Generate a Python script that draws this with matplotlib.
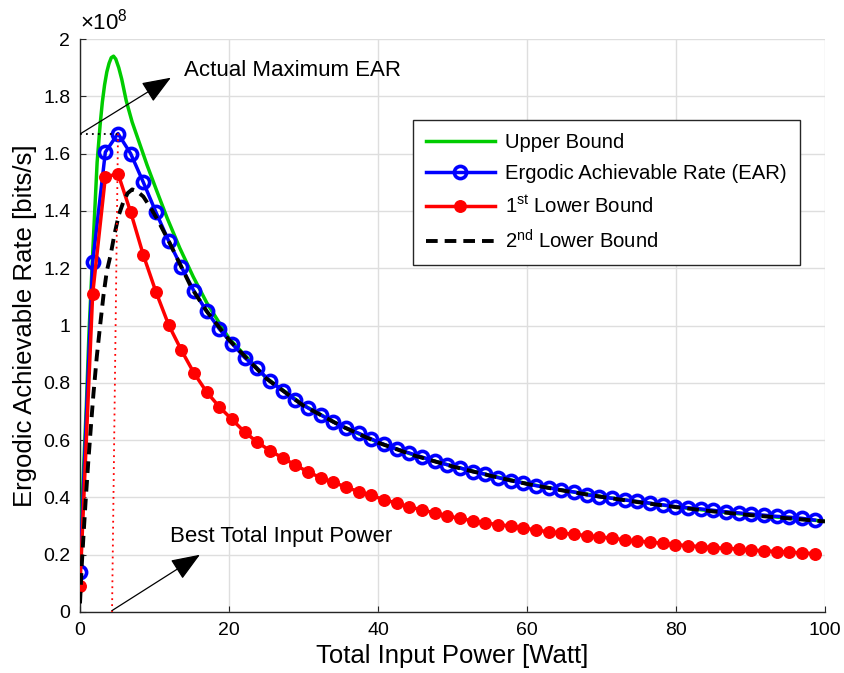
import numpy as np
import matplotlib
matplotlib.use("Agg")
import matplotlib.pyplot as plt
from matplotlib.ticker import FuncFormatter

plt.rcParams['font.family'] = ['Liberation Sans', 'DejaVu Sans']
plt.rcParams['mathtext.fontset'] = 'custom'
plt.rcParams['mathtext.rm'] = 'Liberation Sans'
plt.rcParams['mathtext.it'] = 'Liberation Sans:italic'
plt.rcParams['mathtext.bf'] = 'Liberation Sans:bold'

SCALE = 1e8

# Sampled transmit powers (W) for the simulated curves
power_pts = np.round(np.arange(0, 99, 1.7), 1)

# Ergodic achievable rate, x1e8 bits/s
ear = [0.14, 1.22, 1.605, 1.67, 1.60, 1.50, 1.395, 1.295, 1.205, 1.12,
       1.05, 0.988, 0.937, 0.888, 0.850, 0.805, 0.773, 0.740, 0.712, 0.688,
       0.663, 0.642, 0.624, 0.604, 0.585, 0.569, 0.555, 0.541, 0.526, 0.514,
       0.503, 0.490, 0.481, 0.469, 0.458, 0.450, 0.441, 0.433, 0.426, 0.419,
       0.409, 0.402, 0.397, 0.391, 0.386, 0.380, 0.374, 0.368, 0.364, 0.360,
       0.355, 0.350, 0.346, 0.342, 0.338, 0.334, 0.331, 0.327, 0.321]

# First lower bound, x1e8 bits/s
lb1 = [0.091, 1.11, 1.518, 1.53, 1.396, 1.246, 1.117, 1.002, 0.914, 0.834,
       0.768, 0.716, 0.672, 0.628, 0.593, 0.563, 0.538, 0.513, 0.489, 0.469,
       0.453, 0.436, 0.420, 0.407, 0.392, 0.380, 0.367, 0.356, 0.346, 0.335,
       0.327, 0.318, 0.311, 0.305, 0.300, 0.294, 0.286, 0.280, 0.276, 0.271,
       0.267, 0.262, 0.258, 0.252, 0.248, 0.244, 0.240, 0.235, 0.232, 0.228,
       0.225, 0.222, 0.220, 0.216, 0.214, 0.211, 0.209, 0.206, 0.204]

# Upper bound (analytical), x1e8 bits/s
ub_power = [0, 0.4, 0.85, 1.2, 1.7, 2.3, 2.7, 3.0, 3.3, 3.6, 3.9, 4.2, 4.5,
            4.8, 5.2, 5.6, 6.2, 7.0, 8.0, 9.0, 10.3, 11.7, 13.4, 15.2, 17,
            20, 25, 30, 35, 40, 45, 50, 55, 60, 65, 70, 75, 80, 85, 90, 95,
            100]
ub = [0.20, 0.45, 0.72, 0.97, 1.25, 1.57, 1.70, 1.78, 1.84, 1.885, 1.915,
      1.935, 1.94, 1.93, 1.90, 1.86, 1.785, 1.71, 1.635, 1.56, 1.47, 1.375,
      1.27, 1.17, 1.08, 0.955, 0.817, 0.722, 0.650, 0.592, 0.546, 0.509,
      0.477, 0.448, 0.424, 0.403, 0.384, 0.367, 0.352, 0.339, 0.328, 0.317]

# Second lower bound (analytical), x1e8 bits/s
lb2_power = [0, 0.25, 0.5, 0.75, 1.1, 1.5, 1.8, 2.25, 2.7, 3.15, 3.6, 4.1,
             4.6, 5.2, 5.8, 6.4, 7.0, 7.6, 8.5, 9.5, 10.5, 12, 13.5, 15, 17,
             20, 25, 30, 35, 40, 45, 50, 55, 60, 65, 70, 75, 80, 85, 90, 95,
             100]
lb2 = [0.03, 0.17, 0.28, 0.385, 0.52, 0.66, 0.76, 0.89, 1.0, 1.105, 1.19,
       1.245, 1.315, 1.385, 1.43, 1.462, 1.475, 1.47, 1.45, 1.41, 1.365,
       1.29, 1.21, 1.13, 1.05, 0.95, 0.815, 0.720, 0.650, 0.591, 0.545,
       0.508, 0.476, 0.447, 0.423, 0.402, 0.383, 0.366, 0.351, 0.338, 0.327,
       0.316]

# Optimum operating point
best_power = power_pts[int(np.argmax(ear))]
best_rate = max(ear)
best_power_floor = 4.3

def s(v):
    return np.asarray(v) * SCALE

fig = plt.figure(figsize=(8.45, 6.73), dpi=100)
ax = fig.add_axes([80 / 845, 1 - 612 / 673, 745 / 845, 573 / 673])

axis_col = '#262626'

ax.plot(ub_power, s(ub), color='#00cc00', lw=2.5, label='Upper Bound',
        zorder=3, solid_joinstyle='round')
ax.plot(power_pts, s(ear), color='#0000ff', lw=2.5, marker='o', ms=8.8,
        mfc='none', mec='#0000ff', mew=2.6,
        label='Ergodic Achievable Rate (EAR)', zorder=4)
ax.plot(power_pts, s(lb1), color='#ff0000', lw=2.5, marker='o', ms=8.3,
        mfc='#ff0000', mec='#ff0000', label='1$^{\\mathrm{st}}$ Lower Bound',
        zorder=4)
ax.plot(lb2_power, s(lb2), color='k', lw=2.8, dashes=(3.0, 1.8),
        label='2$^{\\mathrm{nd}}$ Lower Bound', zorder=5)

# Guides to the maximum EAR
ax.plot([0, best_power], s([best_rate, best_rate]), color='k', lw=1.3,
        ls=(0, (1, 2.3)), zorder=6)
ax.plot([best_power, best_power_floor], s([best_rate, 0]), color='#ff0000',
        lw=1.3, ls=(0, (1, 2.3)), zorder=6)

arrow = dict(arrowstyle='-|>,head_length=0.9,head_width=0.35', color='k',
             lw=0.9, mutation_scale=20, shrinkA=0, shrinkB=0)
ax.annotate('', xy=(12.2, 1.865 * SCALE), xytext=(0.1, best_rate * SCALE),
            arrowprops=arrow, zorder=7)
ax.text(14.0, 1.89 * SCALE, 'Actual Maximum EAR', fontsize=16,
        va='center', ha='left', color='k', zorder=7)
ax.annotate('', xy=(16.1, 0.20 * SCALE), xytext=(best_power_floor, 0.005 * SCALE),
            arrowprops=arrow, zorder=7)
ax.text(12.1, 0.262 * SCALE, 'Best Total Input Power', fontsize=16,
        va='center', ha='left', color='k', zorder=7)

ax.set_xlim(0, 100)
ax.set_ylim(0, 2 * SCALE)
ax.set_xticks(np.arange(0, 101, 20))
ax.set_yticks(np.arange(0, 2.01, 0.2) * SCALE)
ax.yaxis.set_major_formatter(FuncFormatter(lambda v, p: f'{v / SCALE:.1f}'.rstrip('0').rstrip('.')))

ax.grid(True, color='#dedede', lw=1.0)
ax.set_axisbelow(True)
for side in ('top', 'right'):
    ax.spines[side].set_visible(False)
for side in ('left', 'bottom'):
    ax.spines[side].set_color(axis_col)
    ax.spines[side].set_linewidth(1.0)
ax.tick_params(direction='in', length=4, width=0.8, colors=axis_col,
               labelsize=14, labelcolor='k', pad=7)

ax.text(0.0, 1.008, '×10$^{8}$', transform=ax.transAxes, fontsize=16,
        ha='left', va='bottom', color='k')

ax.set_xlabel('Total Input Power [Watt]', fontsize=18.5, labelpad=4)
ax.set_ylabel('Ergodic Achievable Rate [bits/s]', fontsize=18.5, labelpad=4)

leg = ax.legend(loc='upper right', bbox_to_anchor=(0.966, 0.859),
                fontsize=14.6, numpoints=1, handlelength=3.4,
                handletextpad=0.5, labelspacing=0.6, borderpad=0.65,
                borderaxespad=0, fancybox=False, framealpha=1,
                edgecolor='#262626')
leg.get_frame().set_linewidth(1.0)

fig.savefig('out.png', dpi=100)
